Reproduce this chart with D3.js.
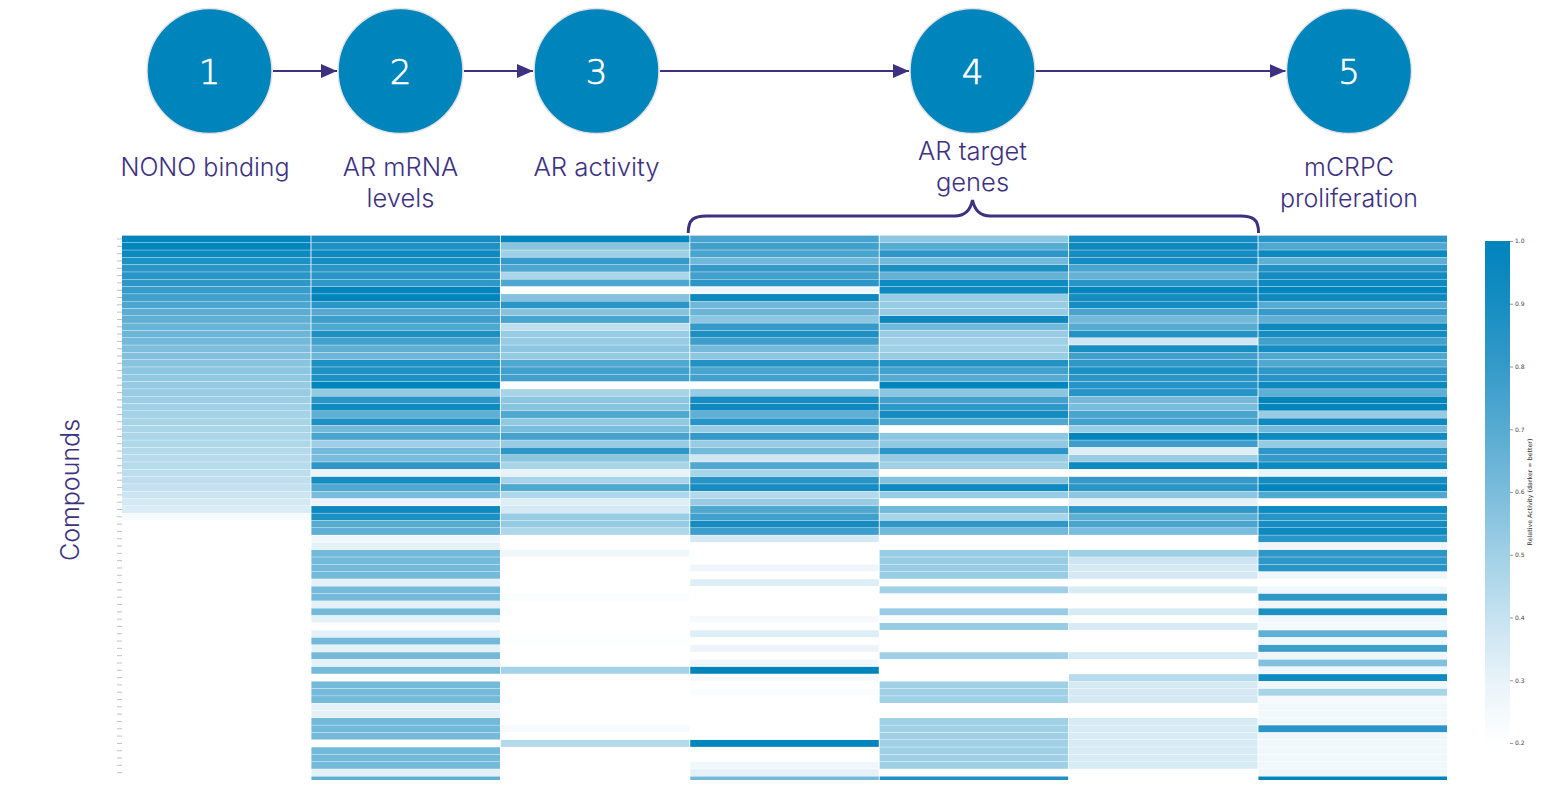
<!DOCTYPE html>
<html>
<head>
<meta charset="utf-8">
<script src="https://cdn.jsdelivr.net/npm/d3@7"></script>
<style>
  html, body { margin: 0; padding: 0; background: #fff; overflow: hidden; }
  svg { display: block; }
</style>
</head>
<body>
<svg id="chart" width="1542" height="790"></svg>
<script>
const steps = ["1", "2", "3", "4", "5"];
const stepLabels = [["NONO binding"], ["AR mRNA", "levels"], ["AR activity"], ["AR target", "genes"], ["mCRPC", "proliferation"]];
const assays = ["nono", "mrna", "activity", "target1", "target2", "target3", "prolif"];

const nonoBinding = [
  .98,.98,.93,.87,.84,.83,.82,.79,.76,.73,
  .69,.67,.65,.64,.62,.59,.58,.56,.55,.54,
  .53,.52,.51,.50,.49,.48,.47,.47,.46,.45,
  .44,.44,.43,.42,.41,.38,.36,.34,.23,.20,
  .20,.20,.20,.20,.20,.20,.20,.20,.20,.20,
  .20,.20,.20,.20,.20,.20,.20,.20,.20,.20,
  .20,.20,.20,.20,.20,.20,.20,.20,.20,.20,
  .20,.20,.20,.20,.20];
const arMrna = [
  .92,.87,.95,.91,.84,.84,.82,1,1,.83,
  .71,.78,.72,.88,.76,.68,.64,.87,.86,.87,
  .98,.53,.84,.93,.68,.88,.62,.74,.50,.62,
  .60,.82,.29,.90,.72,.60,.29,.95,.88,.70,
  .68,.26,.31,.62,.62,.62,.62,.31,.62,.62,
  .31,.62,.31,.20,.31,.62,.31,.62,.31,.62,
  .20,.62,.62,.62,.31,.31,.62,.62,.62,.20,
  .62,.62,.62,.31,.68];
const arActivity = [
  .98,.56,.50,.80,.73,.47,.72,.20,.57,.83,
  .56,.74,.42,.52,.52,.55,.53,.72,.76,.76,
  .20,.48,.55,.56,.72,.54,.60,.75,.52,.82,
  .55,.48,.30,.48,.72,.46,.33,.36,.52,.53,
  .46,.20,.20,.27,.20,.20,.20,.20,.20,.22,
  .20,.20,.20,.20,.20,.21,.20,.20,.20,.49,
  .20,.20,.20,.20,.20,.20,.20,.24,.20,.45,
  .20,.20,.20,.20,.20];
const target1 = [
  .75,.76,.74,.63,.80,.76,.84,.27,.95,.63,
  .64,.55,.80,.88,.78,.62,.55,.86,.74,.76,
  .20,.52,.90,.95,.68,.85,.52,.81,.52,.62,
  .37,.72,.48,.85,.90,.45,.52,.72,.76,.92,
  .78,.36,.20,.20,.20,.27,.20,.33,.20,.20,
  .20,.20,.24,.20,.33,.20,.28,.20,.26,1,
  .23,.21,.22,.20,.20,.20,.20,.20,.20,.98,
  .20,.20,.26,.31,.62];
const target2 = [
  .55,.70,.82,.62,.88,.66,.93,.96,.52,.52,
  .52,.96,.62,.52,.50,.50,.52,.86,.76,.70,
  .98,.55,.76,.82,.92,.72,.20,.55,.54,.84,
  .53,.50,.20,.58,.94,.52,.20,.62,.48,.82,
  .62,.20,.20,.52,.52,.52,.52,.20,.50,.20,
  .20,.52,.20,.52,.20,.20,.20,.50,.20,.20,
  .20,.50,.50,.50,.20,.20,.50,.50,.50,.50,
  .50,.50,.50,.20,.86];
const target3 = [
  .92,.95,.90,.92,.74,.66,.85,.98,.92,.90,
  .74,.62,.70,.86,.37,.89,.77,.82,.88,.84,
  .85,.85,.62,.60,.74,.76,.52,.98,.78,.33,
  .52,.93,.20,.80,.84,.55,.31,.82,.68,.74,
  .60,.20,.20,.50,.38,.36,.36,.20,.35,.20,
  .20,.35,.20,.35,.20,.20,.20,.35,.20,.20,
  .44,.36,.36,.36,.20,.20,.35,.35,.35,.35,
  .35,.35,.35,.20,.20];
const proliferation = [
  .85,.72,.95,.68,.86,.92,.95,.98,.94,.70,
  .80,.68,.95,.92,.76,.90,.72,.72,.82,.85,
  .95,.68,1,1,.52,.95,.62,.93,.53,.82,
  .80,.93,.29,.92,.98,.72,.20,.93,.85,.90,
  .94,.83,.27,.82,.82,.85,.27,.20,.26,.82,
  .27,.88,.26,.25,.68,.27,.78,.27,.58,.27,
  .93,.27,.48,.24,.26,.26,.26,.84,.27,.26,
  .26,.26,.26,.27,1];

const barTicks = [0.2, 0.3, 0.4, 0.5, 0.6, 0.7, 0.8, 0.9, 1.0];
const barColors = ["#ffffff", "#e8f3f9", "#c6e2f0", "#a0d0e6", "#7abcdb", "#57abd1", "#359ac9", "#168dc2", "#0084bc"];

const purple = "#3e3182";
const fontFamily = "Inter, 'Open Sans', sans-serif";
const columns = [nonoBinding, arMrna, arActivity, target1, target2, target3, proliferation];

const svg = d3.select("#chart");
const defs = svg.append("defs");

const color = d3.scaleLinear().domain(barTicks).range(barColors).clamp(true);
const x = d3.scaleBand().domain(assays).range([122, 1447]).paddingInner(0.0045);
const y = d3.scaleBand().domain(d3.range(nonoBinding.length)).range([235.4, 783.6]);

// heatmap, soft like the source bitmap and cut off at the bottom
defs.append("filter").attr("id", "soft")
    .attr("x", "-1%").attr("y", "-1%").attr("width", "102%").attr("height", "102%")
    .append("feGaussianBlur").attr("stdDeviation", 0.6);
defs.append("clipPath").attr("id", "cut")
    .append("rect").attr("x", 100).attr("y", 230).attr("width", 1360).attr("height", 550);

const heat = svg.append("g").attr("clip-path", "url(#cut)")
    .append("g").attr("filter", "url(#soft)");

const cols = heat.selectAll(".col")
    .data(columns)
    .enter()
    .append("g")
    .attr("class", "col")
    .attr("transform", (d, i) => "translate(" + x(assays[i]) + ",0)");

cols.selectAll("rect")
    .data(d => d.map((v, i) => ({ v: v, i: i })))
    .enter()
    .append("rect")
    .attr("y", d => y(d.i) + 0.2)
    .attr("width", x.bandwidth())
    .attr("height", y.bandwidth() - 0.4)
    .attr("fill", d => color(d.v));

const rowTicks = svg.append("g")
    .attr("transform", "translate(122,0)")
    .call(d3.axisLeft(y).tickSize(5).tickFormat(""));
rowTicks.select(".domain").remove();
rowTicks.selectAll("line").attr("stroke", "#a8a8a8").attr("stroke-width", 0.7);
rowTicks.selectAll(".tick").filter(d => d > 73).remove();

// colour bar
const barY = d3.scaleLinear().domain([0.2, 1]).range([743, 241]);
const grad = defs.append("linearGradient").attr("id", "barGrad")
    .attr("x1", 0).attr("x2", 0).attr("y1", 1).attr("y2", 0);
grad.selectAll("stop")
    .data(barTicks)
    .enter()
    .append("stop")
    .attr("offset", d => (d - 0.2) / 0.8)
    .attr("stop-color", d => color(d));

svg.append("rect")
    .attr("x", 1485).attr("y", barY(1))
    .attr("width", 25).attr("height", barY(0.2) - barY(1))
    .attr("fill", "url(#barGrad)");

const barAxis = svg.append("g")
    .attr("transform", "translate(1510,0)")
    .call(d3.axisRight(barY).tickValues(barTicks).tickSize(3).tickPadding(2).tickFormat(d3.format(".1f")));
barAxis.select(".domain").remove();
barAxis.selectAll("line").attr("stroke", "#555").attr("stroke-width", 0.6);
barAxis.selectAll("text").attr("font-family", "'DejaVu Sans'").attr("font-size", 6).attr("fill", "#444");

svg.append("text")
    .attr("transform", "translate(1532,492) rotate(-90)")
    .attr("text-anchor", "middle")
    .attr("font-family", "'DejaVu Sans'")
    .attr("font-size", 6.3)
    .attr("fill", "#333")
    .text("Relative Activity (darker = better)");

// pipeline steps on top
const stepPos = { "1": 209.5, "2": 400.5, "3": 596.5, "4": 972.5, "5": 1349 };
const stepR = 62.5;
const stepY = 71;

defs.append("marker").attr("id", "head")
    .attr("viewBox", "0 0 16 14").attr("refX", 16).attr("refY", 7)
    .attr("markerUnits", "userSpaceOnUse")
    .attr("markerWidth", 16).attr("markerHeight", 14).attr("orient", "auto")
    .append("path").attr("d", "M0,0L16,7L0,14Z").attr("fill", purple);

svg.selectAll(".arrow")
    .data(d3.pairs(steps))
    .enter()
    .append("line")
    .attr("class", "arrow")
    .attr("x1", d => stepPos[d[0]] + stepR + 1)
    .attr("x2", d => stepPos[d[1]] - stepR - 1)
    .attr("y1", stepY).attr("y2", stepY)
    .attr("stroke", purple).attr("stroke-width", 2)
    .attr("marker-end", "url(#head)");

const node = svg.selectAll(".step")
    .data(steps)
    .enter()
    .append("g")
    .attr("class", "step")
    .attr("transform", d => "translate(" + stepPos[d] + "," + stepY + ")");

node.append("circle")
    .attr("r", stepR)
    .attr("fill", "#0084bc")
    .attr("stroke", "#e4e4e4").attr("stroke-width", 1.5);

node.append("text")
    .attr("text-anchor", "middle")
    .attr("y", 12.5)
    .attr("font-family", "'DejaVu Sans Light', 'DejaVu Sans'")
    .attr("font-weight", 200)
    .attr("font-size", 34)
    .attr("fill", "#fff")
    .attr("stroke", "#fff")
    .attr("stroke-width", 0.7)
    .text(d => d);

const labelTop = [176, 176, 176, 160, 176];
const labelShift = [-4.5, 0, 0, 0, 0];
const labelSize = [25, 25.5, 25.8, 25.5, 25];
node.each(function(d, i) {
    const g = d3.select(this);
    stepLabels[i].forEach((line, j) => {
        g.append("text")
            .attr("text-anchor", "middle")
            .attr("x", labelShift[i])
            .attr("y", labelTop[i] - stepY + j * 30.5)
            .attr("font-family", fontFamily)
            .attr("font-weight", 300)
            .attr("font-size", labelSize[i])
            .attr("fill", purple)
            .text(line);
    });
});

// brace over the three target gene columns
const bl = x("target1") - 2, br = x("target3") + x.bandwidth() + 1, bm = stepPos["4"];
const braceTop = 216, braceBottom = 233, peak = 200;
svg.append("path")
    .attr("d", "M" + bl + "," + braceBottom +
        "C" + bl + "," + (braceTop + 3) + " " + (bl + 6) + "," + braceTop + " " + (bl + 18) + "," + braceTop +
        "L" + (bm - 18) + "," + braceTop +
        "C" + (bm - 8) + "," + braceTop + " " + (bm - 2) + "," + (braceTop - 6) + " " + bm + "," + peak +
        "C" + (bm + 2) + "," + (braceTop - 6) + " " + (bm + 8) + "," + braceTop + " " + (bm + 18) + "," + braceTop +
        "L" + (br - 18) + "," + braceTop +
        "C" + (br - 6) + "," + braceTop + " " + br + "," + (braceTop + 3) + " " + br + "," + braceBottom)
    .attr("fill", "none")
    .attr("stroke", purple)
    .attr("stroke-width", 3);

svg.append("text")
    .attr("transform", "translate(79,490) rotate(-90)")
    .attr("text-anchor", "middle")
    .attr("font-family", fontFamily)
    .attr("font-weight", 300)
    .attr("font-size", 25)
    .attr("fill", purple)
    .text("Compounds");
</script>
</body>
</html>
